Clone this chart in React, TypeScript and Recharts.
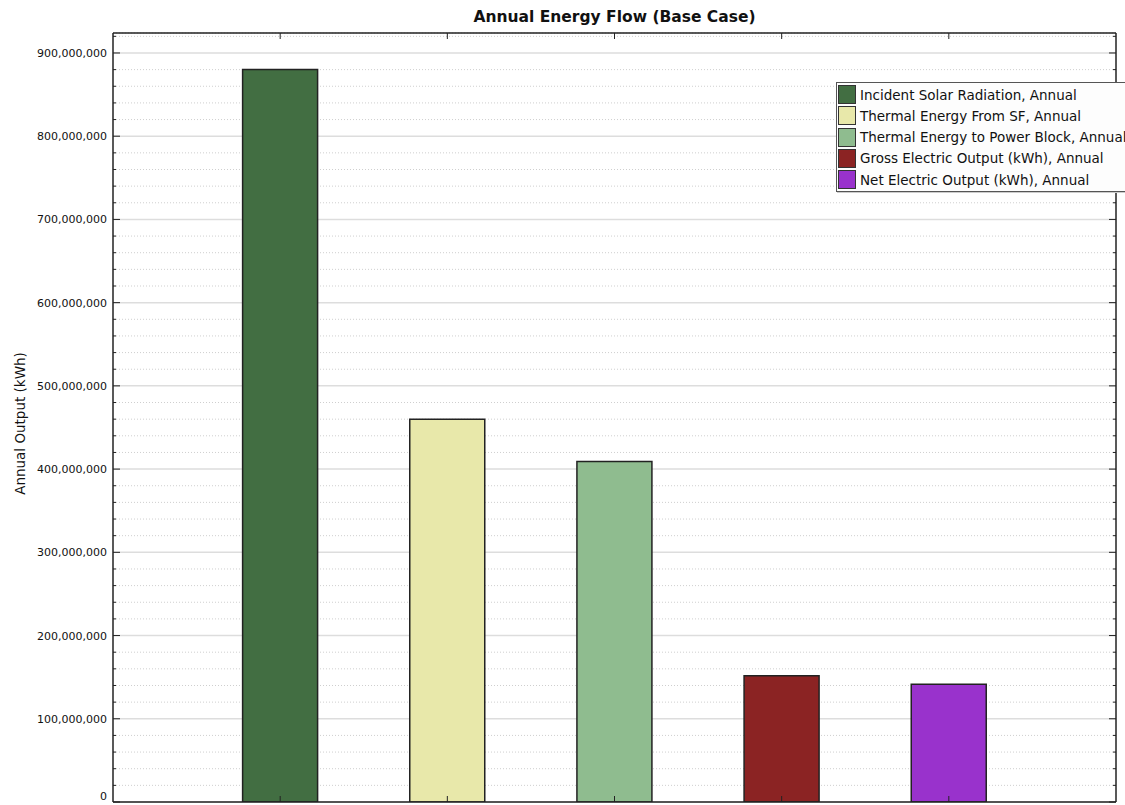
import React from "react";
import { BarChart, Bar, XAxis, YAxis, CartesianGrid, Cell, Legend } from "recharts";

const categories = [
  "Incident Solar Radiation, Annual",
  "Thermal Energy From SF, Annual",
  "Thermal Energy to Power Block, Annual",
  "Gross Electric Output (kWh), Annual",
  "Net Electric Output (kWh), Annual",
];
const values = [880000000, 460000000, 409000000, 151800000, 141400000];
const colors = ["#426E42", "#E8E8AA", "#8FBC8F", "#8B2323", "#9932CC"];
const yMax = 924000000;
const majorStep = 100000000;
const minorStep = 20000000;
const yTicks = Array.from({ length: 47 }, (_, i) => i * minorStep);

const data = categories.map((name, i) => ({ name, value: values[i] }));

const FONT = "'DejaVu Sans', Verdana, sans-serif";
const AXIS = "#222";

const fmt = (v: number) => v.toLocaleString("en-US");

const LeftTick = (props: any) => {
  const { x, y, payload } = props;
  const v = payload.value as number;
  const major = v % majorStep === 0;
  return (
    <g>
      <line x1={x} x2={x + (major ? 7 : 3)} y1={y} y2={y} stroke={AXIS} strokeWidth={1} />
      {major && (
        <text x={x - 6} y={y} dy={v === 0 ? -2 : 4} textAnchor="end" fontFamily={FONT} fontSize={11} fill="#111">
          {fmt(v)}
        </text>
      )}
    </g>
  );
};

const RightTick = (props: any) => {
  const { x, y, payload } = props;
  const v = payload.value as number;
  const major = v % majorStep === 0;
  return <line x1={x} x2={x - (major ? 7 : 3)} y1={y} y2={y} stroke={AXIS} strokeWidth={1} />;
};

const BottomTick = (props: any) => {
  const { x, y } = props;
  return <line x1={x} x2={x} y1={y} y2={y - 6} stroke={AXIS} strokeWidth={1} />;
};

const TopTick = (props: any) => {
  const { x, y } = props;
  return <line x1={x} x2={x} y1={y} y2={y + 6} stroke={AXIS} strokeWidth={1} />;
};

const gridLine = (props: any) => {
  const { x1, x2, y1, y2, index } = props;
  const major = index % 5 === 0;
  return (
    <line
      key={`g-${index}`}
      x1={x1}
      x2={x2}
      y1={y1}
      y2={y2}
      stroke={major ? "#DDDDDD" : "#CFCFCF"}
      strokeWidth={major ? 1.5 : 1}
      strokeDasharray={major ? undefined : "1 2"}
    />
  );
};

const LegendBox = () => (
  <div
    style={{
      border: "1px solid #555",
      background: "#fdfdfd",
      padding: "1px 6px 1px 1px",
      fontFamily: FONT,
      fontSize: 13.5,
      color: "#111",
      whiteSpace: "nowrap",
      boxShadow: "1px 1px 0 #ccc",
    }}
  >
    {categories.map((c, i) => (
      <div key={c} style={{ display: "flex", alignItems: "center", height: 21.25 }}>
        <span
          style={{
            display: "inline-block",
            width: 18,
            height: 19,
            background: colors[i],
            border: "1px solid #333",
            marginRight: 4,
            boxSizing: "border-box",
          }}
        />
        <span>{c}</span>
      </div>
    ))}
  </div>
);

export default function App() {
  return (
    <div
      style={{
        position: "absolute",
        left: 0,
        top: 0,
        width: 1125,
        height: 805,
        overflow: "hidden",
        background: "#fff",
      }}
    >
      <div
        style={{
          position: "absolute",
          left: 113,
          width: 1003,
          top: 8,
          textAlign: "center",
          fontFamily: FONT,
          fontWeight: "bold",
          fontSize: 15.5,
          color: "#111",
          zIndex: 2,
        }}
      >
        Annual Energy Flow (Base Case)
      </div>
      <BarChart
        width={1125}
        height={805}
        data={data}
        margin={{ top: 32, right: 8, bottom: 0, left: 0 }}
        barSize={75}
      >
        <CartesianGrid yAxisId="left" vertical={false} horizontal={gridLine} />
        <XAxis
          dataKey="name"
          xAxisId="bottom"
          height={3}
          padding={{ left: 83.6, right: 83.6 }}
          axisLine={{ stroke: AXIS, strokeWidth: 1.5 }}
          tickLine={false}
          tickSize={0}
          tickMargin={0}
          tick={BottomTick}
          interval={0}
        />
        <XAxis
          dataKey="name"
          xAxisId="top"
          orientation="top"
          height={1}
          padding={{ left: 83.6, right: 83.6 }}
          axisLine={{ stroke: AXIS, strokeWidth: 1.5 }}
          tickLine={false}
          tickSize={0}
          tickMargin={0}
          tick={TopTick}
          interval={0}
        />
        <YAxis
          yAxisId="left"
          width={113}
          domain={[0, yMax]}
          ticks={yTicks}
          interval={0}
          allowDataOverflow
          axisLine={{ stroke: AXIS, strokeWidth: 1.5 }}
          tickLine={false}
          tickSize={0}
          tickMargin={0}
          tick={LeftTick}
          label={{
            value: "Annual Output (kWh)",
            angle: -90,
            position: "insideLeft",
            offset: 20,
            dy: 6,
            style: { textAnchor: "middle", fontFamily: FONT, fontSize: 13.5, fill: "#111" },
          }}
        />
        <YAxis
          yAxisId="right"
          orientation="right"
          width={1}
          domain={[0, yMax]}
          ticks={yTicks}
          interval={0}
          allowDataOverflow
          axisLine={{ stroke: AXIS, strokeWidth: 1.5 }}
          tickLine={false}
          tickSize={0}
          tickMargin={0}
          tick={RightTick}
        />
        <Legend
          layout="vertical"
          align="center"
          verticalAlign="middle"
          wrapperStyle={{ left: 836, top: 82, width: "auto" }}
          content={() => <LegendBox />}
        />
        <Bar
          dataKey="value"
          xAxisId="bottom"
          yAxisId="left"
          isAnimationActive={false}
          stroke="#222"
          strokeWidth={1.5}
        >
          {data.map((d, i) => (
            <Cell key={d.name} fill={colors[i]} />
          ))}
        </Bar>
      </BarChart>
    </div>
  );
}
